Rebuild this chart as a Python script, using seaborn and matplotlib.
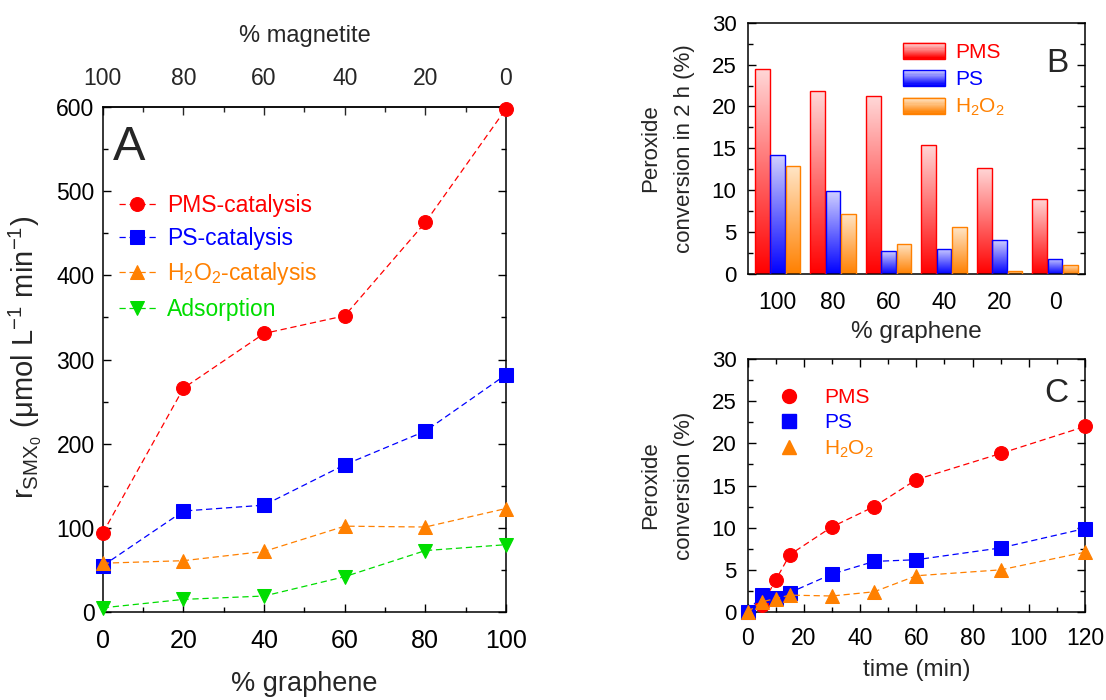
import numpy as np
import pandas as pd
import matplotlib
matplotlib.use("Agg")
import matplotlib.pyplot as plt
import seaborn as sns
from matplotlib.colors import LinearSegmentedColormap, to_rgb
from matplotlib.patches import Rectangle
from matplotlib.lines import Line2D
from matplotlib.legend_handler import HandlerBase
from matplotlib.ticker import MultipleLocator

# ---------------- data ----------------
graphene_pct = [0, 20, 40, 60, 80, 100]
rate_pms = [94, 266, 331, 352, 463, 598]
rate_ps = [55, 120, 127, 175, 215, 282]
rate_h2o2 = [58, 61, 72, 102, 101, 123]
rate_ads = [5, 15, 19, 42, 73, 80]

bar_categories = ["100", "80", "60", "40", "20", "0"]
conv_pms = [24.5, 21.9, 21.2, 15.4, 12.7, 9.0]
conv_ps = [14.2, 9.9, 2.7, 3.0, 4.0, 1.8]
conv_h2o2 = [12.9, 7.2, 3.6, 5.6, 0.3, 1.1]

time_min = [0, 5, 10, 15, 30, 45, 60, 90, 120]
kin_pms = [0, 0.8, 3.8, 6.8, 10.1, 12.5, 15.7, 18.8, 22.0]
kin_ps = [0, 2.0, 1.7, 2.3, 4.5, 6.0, 6.2, 7.6, 9.9]
kin_h2o2 = [0, 1.2, 1.6, 2.0, 1.9, 2.4, 4.3, 5.0, 7.1]

RED, BLUE, ORANGE, GREEN = "#ff0000", "#0000ff", "#ff8000", "#00dd00"

sns.set_theme(style="ticks")
plt.rcParams["font.family"] = ["Liberation Sans", "DejaVu Sans"]
plt.rcParams["mathtext.fontset"] = "custom"
plt.rcParams["mathtext.rm"] = "Liberation Sans"
plt.rcParams["mathtext.it"] = "Liberation Sans:italic"
plt.rcParams["axes.linewidth"] = 1.1

fig = plt.figure(figsize=(11.06, 7.0), dpi=100)
axA = fig.add_axes([0.093, 0.1257, 0.3645, 0.7213])
axB = fig.add_axes([0.676, 0.6086, 0.305, 0.359])
axC = fig.add_axes([0.676, 0.1257, 0.305, 0.3614])

def style_ticks(ax, fsx, fsy, pad_x, pad_y):
    ax.tick_params(which="both", direction="in", top=True, right=True,
                   colors="black", width=1.0)
    ax.tick_params(which="major", length=6)
    ax.tick_params(which="minor", length=3.5)
    ax.tick_params(axis="x", labelsize=fsx, pad=pad_x)
    ax.tick_params(axis="y", labelsize=fsy, pad=pad_y)
    for s in ax.spines.values():
        s.set_color("black")
        s.set_linewidth(1.1)

# ---------------- Panel A ----------------
dfA = pd.DataFrame({"g": graphene_pct, "pms": rate_pms, "ps": rate_ps,
                    "h2o2": rate_h2o2, "ads": rate_ads})
seriesA = [("pms", "PMS-catalysis", RED, "o"),
           ("ps", "PS-catalysis", BLUE, "s"),
           ("h2o2", "H$_2$O$_2$-catalysis", ORANGE, "^"),
           ("ads", "Adsorption", GREEN, "v")]
for col, lab, c, m in seriesA:
    sns.lineplot(data=dfA, x="g", y=col, ax=axA, color=c, marker=m,
                 markersize=10, markeredgecolor=c, linestyle="--",
                 linewidth=0.9, label=lab, clip_on=False, zorder=3)
for ln in axA.lines:
    ln.set_linestyle((0, (5, 3)))
axA.set_xlim(0, 100)
axA.set_ylim(0, 600)
axA.xaxis.set_major_locator(MultipleLocator(20))
axA.xaxis.set_minor_locator(MultipleLocator(10))
axA.yaxis.set_major_locator(MultipleLocator(100))
axA.yaxis.set_minor_locator(MultipleLocator(50))
style_ticks(axA, 18, 16.5, 12, 6)
axA.tick_params(which="both", top=False)
axA.set_xlabel("% graphene", fontsize=19.5, labelpad=13)
axA.set_ylabel(r"r$_{\mathrm{SMX}_{\mathrm{0}}}$ ($\mathrm{\mu}$mol L$^{-1}$ min$^{-1}$)",
               fontsize=21)
axA.yaxis.set_label_coords(-0.145, 0.505)
secA = axA.secondary_xaxis("top", functions=(lambda x: 100 - x, lambda x: 100 - x))
secA.xaxis.set_major_locator(MultipleLocator(20))
secA.xaxis.set_minor_locator(MultipleLocator(10))
secA.tick_params(which="both", direction="in", labelsize=16.5, pad=12, width=1.0)
secA.tick_params(which="major", length=6)
secA.tick_params(which="minor", length=3.5)
secA.set_xlabel("% magnetite", fontsize=17, labelpad=18)
legA = axA.legend(loc="upper left", bbox_to_anchor=(0.0, 0.86), frameon=False,
                  fontsize=16.5, handlelength=1.6, handletextpad=0.5,
                  labelspacing=0.45, borderaxespad=0.3)
for t, (_, _, c, _) in zip(legA.get_texts(), seriesA):
    t.set_color(c)
axA.text(0.025, 0.965, "A", transform=axA.transAxes, fontsize=35,
         va="top", ha="left")

# ---------------- Panel B ----------------
dfB = pd.DataFrame({
    "cat": bar_categories * 3,
    "val": conv_pms + conv_ps + conv_h2o2,
    "ox": ["PMS"] * 6 + ["PS"] * 6 + ["H2O2"] * 6,
})
bar_cols = {"PMS": RED, "PS": BLUE, "H2O2": ORANGE}
light_cols = {RED: "#ffd8d8", BLUE: "#d0d0ff", ORANGE: "#ffe6c8"}
sns.barplot(data=dfB, x="cat", y="val", hue="ox", order=bar_categories,
            hue_order=["PMS", "PS", "H2O2"], palette=bar_cols, ax=axB,
            width=0.83, gap=0.04, legend=False, saturation=1)

def nearest_base(fc):
    rgb = np.array(fc[:3])
    return min([RED, BLUE, ORANGE],
               key=lambda c: np.sum((np.array(to_rgb(c)) - rgb) ** 2))

grad = np.linspace(0, 1, 256).reshape(-1, 1)
for p in list(axB.patches):
    base = nearest_base(p.get_facecolor())
    x0, y0 = p.get_x(), p.get_y()
    w, h = p.get_width(), p.get_height()
    cmap = LinearSegmentedColormap.from_list("g", [base, light_cols[base]])
    im = axB.imshow(grad, extent=[x0, x0 + w, y0, y0 + h], origin="lower",
                    cmap=cmap, aspect="auto", zorder=2, interpolation="bilinear")
    im.set_clip_path(p)
    p.set_facecolor("none")
    p.set_edgecolor(base)
    p.set_linewidth(1.0)
    p.set_zorder(3)
axB.set_xlim(-0.54, 5.54)
axB.set_ylim(0, 30)
axB.yaxis.set_major_locator(MultipleLocator(5))
axB.yaxis.set_minor_locator(MultipleLocator(2.5))
style_ticks(axB, 16.5, 16, 12, 8)
axB.tick_params(axis="x", which="both", length=0, top=False, bottom=False)
axB.set_xlabel("% graphene", fontsize=17.5, labelpad=5)
axB.set_ylabel("Peroxide\nconversion in 2 h (%)", fontsize=16, labelpad=12,
               linespacing=1.8)


class GradHandler(HandlerBase):
    def __init__(self, base, light):
        super().__init__()
        self.base, self.light = base, light

    def create_artists(self, legend, orig_handle, xdescent, ydescent, width,
                       height, fontsize, trans):
        arts = []
        n = 14
        b, l = np.array(to_rgb(self.base)), np.array(to_rgb(self.light))
        for i in range(n):
            f = i / (n - 1)
            col = b * (1 - f) + l * f
            arts.append(Rectangle((-xdescent, -ydescent + i * height / n), width,
                                  height / n + 0.2, facecolor=col,
                                  edgecolor="none", transform=trans))
        arts.append(Rectangle((-xdescent, -ydescent), width, height,
                              facecolor="none", edgecolor=self.base,
                              linewidth=1.0, transform=trans))
        return arts


hB = [Rectangle((0, 0), 1, 1) for _ in range(3)]
legB = axB.legend(hB, ["PMS", "PS", "H$_2$O$_2$"], loc="upper left",
                  bbox_to_anchor=(0.405, 0.995), frameon=False, fontsize=15,
                  handlelength=2.0, handleheight=0.8, handletextpad=0.5,
                  labelspacing=0.38,
                  handler_map={hB[0]: GradHandler(RED, light_cols[RED]),
                               hB[1]: GradHandler(BLUE, light_cols[BLUE]),
                               hB[2]: GradHandler(ORANGE, light_cols[ORANGE])})
for t, c in zip(legB.get_texts(), [RED, BLUE, ORANGE]):
    t.set_color(c)
axB.text(0.95, 0.9, "B", transform=axB.transAxes, fontsize=24,
         va="top", ha="right")

# ---------------- Panel C ----------------
dfC = pd.DataFrame({"t": time_min, "pms": kin_pms, "ps": kin_ps, "h2o2": kin_h2o2})
seriesC = [("pms", "PMS", RED, "o"), ("ps", "PS", BLUE, "s"),
           ("h2o2", "H$_2$O$_2$", ORANGE, "^")]
for col, lab, c, m in seriesC:
    sns.lineplot(data=dfC, x="t", y=col, ax=axC, color=c, marker=m,
                 markersize=10, markeredgecolor=c, linestyle="--",
                 linewidth=0.9, label=lab, clip_on=False, zorder=3)
for ln in axC.lines:
    ln.set_linestyle((0, (5, 3)))
axC.set_xlim(0, 120)
axC.set_ylim(0, 30)
axC.xaxis.set_major_locator(MultipleLocator(20))
axC.xaxis.set_minor_locator(MultipleLocator(10))
axC.yaxis.set_major_locator(MultipleLocator(5))
axC.yaxis.set_minor_locator(MultipleLocator(2.5))
style_ticks(axC, 16.5, 16, 11, 8)
axC.set_xlabel("time (min)", fontsize=17.5, labelpad=6)
axC.set_ylabel("Peroxide\nconversion (%)", fontsize=16, labelpad=12,
               linespacing=1.8)
hC = [Line2D([], [], color=c, marker=m, markersize=10, linestyle="none")
      for _, _, c, m in seriesC]
legC = axC.legend(hC, [s[1] for s in seriesC], loc="upper left",
                  bbox_to_anchor=(0.035, 0.96), frameon=False, fontsize=15,
                  handlelength=1.0, handletextpad=1.2, labelspacing=0.3)
for t, (_, _, c, _) in zip(legC.get_texts(), seriesC):
    t.set_color(c)
axC.text(0.95, 0.925, "C", transform=axC.transAxes, fontsize=24,
         va="top", ha="right")

fig.savefig("out.png", dpi=100)
